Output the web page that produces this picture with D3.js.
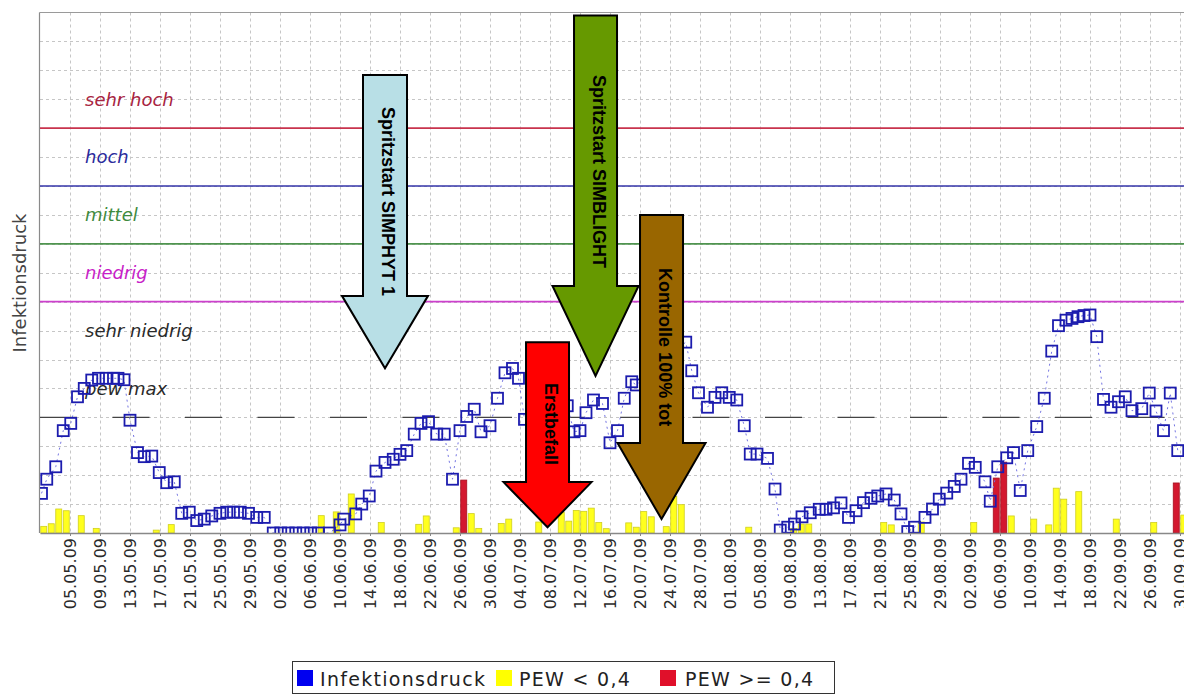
<!DOCTYPE html>
<html><head><meta charset="utf-8">
<script src="https://cdn.jsdelivr.net/npm/d3@7/dist/d3.min.js"></script>
<style>body{margin:0;background:#fff;overflow:hidden}</style>
</head><body>
<svg id="c" width="1184" height="694"></svg>
<script>
// ---------- data ----------
const startLabel = "01.05.09";
const tickLabels = ["05.05.09","09.05.09","13.05.09","17.05.09","21.05.09","25.05.09","29.05.09","02.06.09","06.06.09","10.06.09","14.06.09","18.06.09","22.06.09","26.06.09","30.06.09","04.07.09","08.07.09","12.07.09","16.07.09","20.07.09","24.07.09","28.07.09","01.08.09","05.08.09","09.08.09","13.08.09","17.08.09","21.08.09","25.08.09","29.08.09","02.09.09","06.09.09","10.09.09","14.09.09","18.09.09","22.09.09","26.09.09","30.09.09"];

// Infektionsdruck: day offset since 01.05.09 and value
const infDay = [0.2,0.9,2.1,3.1,4.1,5.0,5.9,6.9,7.8,8.8,9.8,10.4,11.2,12.0,13.0,13.9,14.9,15.9,16.9,17.9,18.9,19.9,20.9,21.9,22.9,24.0,24.9,25.8,26.7,27.8,28.9,29.9,31.1,32.1,33.1,34.1,35.1,36.1,37.1,38.6,40.0,40.5,42.1,42.9,43.9,44.8,46.0,47.1,48.0,48.9,49.9,50.8,51.8,52.9,53.9,55.0,56.0,56.9,57.9,58.8,60.0,61.0,62.0,63.0,63.8,64.6,70.3,71.2,72.0,72.8,73.8,75.0,76.0,77.0,77.9,78.9,79.5,86.1,86.9,87.8,89.0,90.0,90.9,91.9,92.9,93.9,94.7,95.6,97.0,98.0,98.7,99.7,100.6,101.6,102.7,103.9,104.8,105.8,106.8,107.8,108.8,109.8,110.8,111.7,112.8,113.9,114.8,115.7,116.6,118.0,119.0,119.9,120.9,121.9,122.8,123.8,124.7,126.0,126.7,127.7,128.9,129.8,130.7,131.7,132.9,133.9,134.9,135.8,136.8,137.6,138.4,139.2,140.0,140.9,141.8,142.8,143.8,144.7,145.6,146.9,147.9,148.8,149.8,150.7,151.7];
const infVal = [1.37,1.86,2.29,3.54,3.79,4.71,5.0,5.29,5.35,5.35,5.35,5.35,5.3,3.9,2.78,2.64,2.66,2.09,1.74,1.77,0.68,0.72,0.43,0.48,0.59,0.68,0.72,0.72,0.72,0.68,0.54,0.54,0,0,0,0,0,0,0,0,0.28,0.48,0.66,1.0,1.28,2.14,2.44,2.55,2.72,2.85,3.42,3.79,3.85,3.42,3.42,1.86,3.54,4.03,4.28,3.5,3.71,4.66,5.54,5.69,5.35,3.93,4.4,3.5,3.54,4.16,4.6,4.48,3.12,3.54,4.66,5.23,5.12,6.6,5.61,4.85,4.35,4.69,4.85,4.69,4.6,3.71,2.73,2.73,2.58,1.52,0.1,0.2,0.31,0.56,0.7,0.82,0.82,0.87,1.04,0.54,0.77,1.05,1.2,1.28,1.35,1.14,0.66,0.05,0.2,0.54,0.83,1.17,1.38,1.61,1.86,2.41,2.27,1.77,1.1,2.29,2.6,2.78,1.47,2.85,3.68,4.66,6.29,7.17,7.36,7.42,7.48,7.52,7.54,6.79,4.62,4.35,4.54,4.71,4.23,4.3,4.84,4.22,3.54,4.84,2.85];

// PEW < 0,4 (yellow) bars: day index and value
const yellowDay = [0,1,2,3,5,7,15,17,37,39,41,45,50,51,55,57,58,61,62,66,69,70,71,72,73,74,75,78,79,80,81,83,84,85,94,100,101,102,112,113,117,124,129,132,134,135,136,138,143,148,152];
const yellowVal = [0.23,0.32,0.83,0.77,0.6,0.16,0.1,0.29,0.6,0.73,1.35,0.36,0.3,0.59,0.18,0.67,0.16,0.33,0.48,0.38,0.72,0.41,0.78,0.75,0.86,0.36,0.15,0.35,0.2,0.74,0.56,0.22,1.27,0.98,0.2,0.16,0.31,0.31,0.36,0.28,0.38,0.36,0.59,0.48,0.28,1.55,1.17,1.43,0.48,0.36,0.62];
// PEW >= 0,4 (red) bars
const redDay = [56,127,128,151];
const redVal = [1.83,1.9,2.45,1.73];

// risk levels
const levelNames = ["sehr hoch","hoch","mittel","niedrig","sehr niedrig","pew max"];
const levelLabelVal = [15,13,11,9,7,5];
const levelColors = ["#a8243f","#2b2b9c","#3e8a3e","#c81ec8","#2a2a2a","#2a2a2a"];
const thresholdVal = [14,12,10,8];
const thresholdColors = ["#c8334d","#3535a8","#4f944f","#cc40cc"];
const pewMaxVal = 4;

// annotation arrows
const arrowLabel = ["Spritzstart SIMPHYT 1","Spritzstart SIMBLIGHT","Erstbefall","Kontrolle 100% tot"];
const arrowDay = [46.0,74.07,67.67,82.87];
const arrowTop = [15.84,17.9,6.6,11.0];
const arrowHead = [8.2,8.54,1.76,3.11];
const arrowTip = [5.7,5.43,0.2,0.48];
const arrowTextAt = [14.73,15.84,5.19,9.16];
const arrowColors = ["#b8dfe6","#669900","#ff0000","#996600"];

const legendNames = ["Infektionsdruck","PEW < 0,4","PEW >= 0,4"];
const legendColors = ["#0000f0","#ffff00","#e0102a"];

(function(){
// ---------- layout ----------
const parse = d3.utcParse("%d.%m.%y");
const t0 = parse(startLabel);
const dayToDate = d => new Date(t0.getTime() + d * 864e5);
const pL = 40, pxPerDay = 7.5, pB = 533, pT = 12.5;
const x = d3.scaleUtc().domain([t0, dayToDate(155)]).range([pL, pL + 155 * pxPerDay]);
const y = d3.scaleLinear().domain([0, 18]).range([pB, pT]);
const pR = x(dayToDate(155));

const svg = d3.select("#c");
svg.append("rect").attr("width",1184).attr("height",694).attr("fill","#fff");

svg.append("defs").append("clipPath").attr("id","plot")
  .append("rect").attr("x",pL).attr("y",pT).attr("width",pR-pL).attr("height",pB-pT);

const tickDates = tickLabels.map(parse);

// grid
const grid = svg.append("g").attr("stroke","#c6c6c6").attr("stroke-dasharray","3,3").attr("stroke-width",1);
grid.selectAll("line.v").data(tickDates).join("line").attr("class","v")
  .attr("x1",d=>Math.round(x(d))+0.5).attr("x2",d=>Math.round(x(d))+0.5)
  .attr("y1",pT).attr("y2",pB);
grid.selectAll("line.h").data(d3.range(1,18)).join("line").attr("class","h")
  .attr("x1",pL).attr("x2",pR)
  .attr("y1",d=>Math.round(y(d))+0.5).attr("y2",d=>Math.round(y(d))+0.5);

// borders
svg.append("line").attr("x1",pL-0.5).attr("x2",pR).attr("y1",pT).attr("y2",pT).attr("stroke","#9a9a9a").attr("stroke-width",1.2);
svg.append("line").attr("x1",pL-0.5).attr("x2",pL-0.5).attr("y1",pT).attr("y2",pB).attr("stroke","#8a8a8a").attr("stroke-width",1.2);

// threshold lines
svg.append("g").selectAll("line").data(thresholdVal).join("line")
  .attr("x1",pL).attr("x2",pR)
  .attr("y1",d=>y(d)).attr("y2",d=>y(d))
  .attr("stroke",(d,i)=>thresholdColors[i]).attr("stroke-width",1.6);
svg.append("line").attr("x1",pL).attr("x2",pR).attr("y1",y(pewMaxVal)).attr("y2",y(pewMaxVal))
  .attr("stroke","#444").attr("stroke-width",1.3).attr("stroke-dasharray","37,35.5");

// level labels
svg.append("g").selectAll("text").data(levelNames).join("text")
  .attr("x",85).attr("y",(d,i)=>y(levelLabelVal[i])).attr("dy","0.35em")
  .attr("font-family","DejaVu Sans").attr("font-style","italic").attr("font-size",18)
  .attr("fill",(d,i)=>levelColors[i]).text(d=>d);

// bars
const barW = 6;
const bars = svg.append("g");
bars.selectAll("rect.yb").data(yellowDay).join("rect").attr("class","yb")
  .attr("x",(d)=>x(dayToDate(d+0.5))-barW/2).attr("width",barW)
  .attr("y",(d,i)=>y(yellowVal[i])).attr("height",(d,i)=>pB-y(yellowVal[i]))
  .attr("fill","#ffff1e").attr("stroke","#cfcf20").attr("stroke-width",0.8);
bars.selectAll("rect.rb").data(redDay).join("rect").attr("class","rb")
  .attr("x",(d)=>x(dayToDate(d+0.5))-barW/2).attr("width",barW)
  .attr("y",(d,i)=>y(redVal[i])).attr("height",(d,i)=>pB-y(redVal[i]))
  .attr("fill","#d3182f").attr("stroke","#a5101f").attr("stroke-width",0.8);

// series line + squares
const pts = infDay.map((d,i)=>({t:dayToDate(d), v:infVal[i]}));
const plot = svg.append("g").attr("clip-path","url(#plot)");
plot.append("path").datum(pts)
  .attr("d", d3.line().x(p=>x(p.t)).y(p=>y(p.v)))
  .attr("fill","none").attr("stroke","#7474e2").attr("stroke-width",1).attr("stroke-dasharray","2,4");
const sq = 11;
plot.selectAll("rect.s").data(pts).join("rect").attr("class","s")
  .attr("x",p=>x(p.t)-sq/2).attr("y",p=>y(p.v)-sq/2).attr("width",sq).attr("height",sq)
  .attr("fill","none").attr("stroke","#1c1cae").attr("stroke-width",1.8);

// x axis
const axis = svg.append("g").attr("transform",`translate(0,${pB})`)
  .call(d3.axisBottom(x).tickValues(tickDates).tickFormat(d3.utcFormat("%d.%m.%y")).tickSize(3).tickSizeOuter(0));
axis.select(".domain").attr("stroke","#888").attr("stroke-width",1.4);
axis.selectAll(".tick line").attr("stroke","#888");
axis.selectAll(".tick text")
  .attr("transform","rotate(-90)").attr("text-anchor","end")
  .attr("x",-5).attr("y",0).attr("dy","0.35em")
  .attr("font-family","DejaVu Sans").attr("font-size",16).attr("fill","#2a2a2a");

// y axis title
svg.append("text").attr("transform","translate(20,283) rotate(-90)")
  .attr("text-anchor","middle").attr("dy","0.35em")
  .attr("font-family","DejaVu Sans").attr("font-size",18).attr("fill","#444")
  .text("Infektionsdruck");

// arrows
const arrows = svg.append("g");
const shaftHalf = [22,21.5,21.5,21.5], headHalf = [43,43,44,44];
arrowLabel.forEach((lab,i)=>{
  const cx = x(dayToDate(arrowDay[i]));
  const yt = y(arrowTop[i]), yh = y(arrowHead[i]), yp = y(arrowTip[i]);
  const sw = shaftHalf[i], hw = headHalf[i];
  const p = [[cx-sw,yt],[cx+sw,yt],[cx+sw,yh],[cx+hw,yh],[cx,yp],[cx-hw,yh],[cx-sw,yh]];
  arrows.append("polygon").attr("points",p.map(q=>q.join(",")).join(" "))
    .attr("fill",arrowColors[i]).attr("stroke","#000").attr("stroke-width",2).attr("stroke-linejoin","miter");
  arrows.append("text").attr("transform",`translate(${cx},${y(arrowTextAt[i])}) rotate(90)`)
    .attr("dy","0.15em").attr("font-family","Liberation Sans").attr("font-weight","bold")
    .attr("font-size",18).attr("fill","#000").text(lab);
});

// legend
const lg = svg.append("g");
lg.append("rect").attr("x",292.5).attr("y",661.5).attr("width",542).attr("height",32)
  .attr("fill","#fff").attr("stroke","#333").attr("stroke-width",1);
const lgSq = [297,496,660], lgTx = [320,519,685];
legendNames.forEach((n,i)=>{
  lg.append("rect").attr("x",lgSq[i]).attr("y",670).attr("width",16).attr("height",16).attr("fill",legendColors[i]);
  lg.append("text").attr("x",lgTx[i]).attr("y",686).attr("font-family","DejaVu Sans").attr("font-size",19)
    .attr("letter-spacing",1.3).attr("fill","#222").text(n);
});
})();
</script>
</body></html>
